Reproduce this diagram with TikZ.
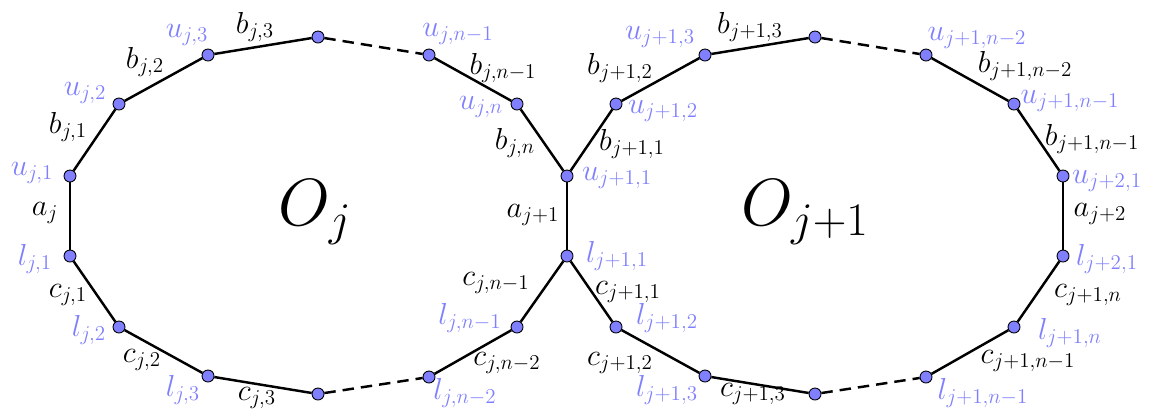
\RequirePackage{fix-cm}
\documentclass[tikz,border=0pt]{standalone}
\begin{document}
\begin{tikzpicture}[x=0.02cm,y=-0.02cm,
  vtx/.style={circle,draw=black,line width=0.5pt,fill=blue!50,minimum size=0.24cm,inner sep=0pt},
  edge/.style={line width=1.4pt},
  gap/.style={line width=1.4pt,dash pattern=on 6.5pt off 4pt},
  vl/.style={text=blue!50,inner sep=0pt,font=\fontsize{17.28}{20}\selectfont},
  el/.style={text=black,inner sep=0pt,font=\fontsize{17.28}{20}\selectfont},
  big/.style={inner sep=0pt,font=\fontsize{38}{45}\selectfont}]
\useasboundingbox (0,0) rectangle (1151,414);
% upper chain
\node[vtx] (u1) at (70,176) {};
\node[vtx] (u2) at (119,104) {};
\node[vtx] (u3) at (208,55) {};
\node[vtx] (ut) at (318,37) {};
\node[vtx] (unm) at (429,55) {};
\node[vtx] (un) at (517,104) {};
\node[vtx] (m1) at (567,176) {};
\node[vtx] (r2) at (616,104) {};
\node[vtx] (r3) at (705,55) {};
\node[vtx] (rt) at (815,37) {};
\node[vtx] (rnm2) at (926,55) {};
\node[vtx] (rnm1) at (1014,104) {};
\node[vtx] (w1) at (1063,176) {};
% lower chain
\node[vtx] (l1) at (70,256) {};
\node[vtx] (l2) at (119,327) {};
\node[vtx] (l3) at (208,376) {};
\node[vtx] (lb) at (318,394) {};
\node[vtx] (lnm2) at (429,377) {};
\node[vtx] (lnm1) at (517,327) {};
\node[vtx] (m2) at (567,256) {};
\node[vtx] (s2) at (616,327) {};
\node[vtx] (s3) at (705,376) {};
\node[vtx] (sb) at (815,394) {};
\node[vtx] (snm1) at (926,377) {};
\node[vtx] (sn) at (1014,327) {};
\node[vtx] (w2) at (1063,256) {};
% edges
\draw[edge] (u1) -- (u2) -- (u3) -- (ut);
\draw[gap] (ut) -- (unm);
\draw[edge] (unm) -- (un) -- (m1);
\draw[edge] (u1) -- (l1);
\draw[edge] (l1) -- (l2) -- (l3) -- (lb);
\draw[gap] (lb) -- (lnm2);
\draw[edge] (lnm2) -- (lnm1) -- (m2);
\draw[edge] (m1) -- (m2);
\draw[edge] (m1) -- (r2) -- (r3) -- (rt);
\draw[gap] (rt) -- (rnm2);
\draw[edge] (rnm2) -- (rnm1) -- (w1);
\draw[edge] (w1) -- (w2);
\draw[edge] (m2) -- (s2) -- (s3) -- (sb);
\draw[gap] (sb) -- (snm1);
\draw[edge] (snm1) -- (sn) -- (w2);
% big labels
\node[big] (oj) at (315,212) {$O_j$};
\node[big] (oj1) at (805,212) {$O_{j+1}$};
% vertex labels
\node[vl] (tu1) at (32,173) {$u_{j,1}$};
\node[vl] (tu2) at (85,93) {$u_{j,2}$};
\node[vl] (tu3) at (187,35) {$u_{j,3}$};
\node[vl] (tunm) at (458,34) {$u_{j,n-1}$};
\node[vl] (tun) at (481,107) {$u_{j,n}$};
\node[vl] (tm1) at (617,178) {$u_{j+1,1}$};
\node[vl] (tr2) at (663,111) {$u_{j+1,2}$};
\node[vl] (tr3) at (660,37) {$u_{j+1,3}$};
\node[vl] (trnm2) at (977,38) {$u_{j+1,n-2}$};
\node[vl] (trnm1) at (1070,101) {$u_{j+1,n-1}$};
\node[vl] (tw1) at (1107,181) {$u_{j+2,1}$};
\node[vl] (tl1) at (35,259) {$l_{j,1}$};
\node[vl] (tl2) at (89,330) {$l_{j,2}$};
\node[vl] (tl3) at (183,390) {$l_{j,3}$};
\node[vl] (tlnm2) at (465,393) {$l_{j,n-2}$};
\node[vl] (tlnm1) at (470,318) {$l_{j,n-1}$};
\node[vl] (tm2) at (617,256) {$l_{j+1,1}$};
\node[vl] (ts2) at (667,318) {$l_{j+1,2}$};
\node[vl] (ts3) at (667,390) {$l_{j+1,3}$};
\node[vl] (tsnm1) at (983,393) {$l_{j+1,n-1}$};
\node[vl] (tsn) at (1070,333) {$l_{j+1,n}$};
\node[vl] (tw2) at (1107,259) {$l_{j+2,1}$};
% edge labels
\node[el] (ea1) at (45,213) {$a_j$};
\node[el] (ea2) at (533,215) {$a_{j+1}$};
\node[el] (ea3) at (1100,214) {$a_{j+2}$};
\node[el] (eb1) at (68,127) {$b_{j,1}$};
\node[el] (eb2) at (145,62) {$b_{j,2}$};
\node[el] (eb3) at (255,27) {$b_{j,3}$};
\node[el] (ebnm) at (503,68) {$b_{j,n-1}$};
\node[el] (ebn) at (515,143) {$b_{j,n}$};
\node[el] (ec1) at (68,295) {$c_{j,1}$};
\node[el] (ec2) at (142,360) {$c_{j,2}$};
\node[el] (ec3) at (257,398) {$c_{j,3}$};
\node[el] (ecnm1) at (496,283) {$c_{j,n-1}$};
\node[el] (ecnm2) at (507,363) {$c_{j,n-2}$};
\node[el] (fb1) at (632,144) {$b_{j+1,1}$};
\node[el] (fb2) at (620,68) {$b_{j+1,2}$};
\node[el] (fb3) at (750,27) {$b_{j+1,3}$};
\node[el] (fbnm2) at (1025,66) {$b_{j+1,n-2}$};
\node[el] (fbnm1) at (1092,139) {$b_{j+1,n-1}$};
\node[el] (fc1) at (628,292) {$c_{j+1,1}$};
\node[el] (fc2) at (620,363) {$c_{j+1,2}$};
\node[el] (fc3) at (753,394) {$c_{j+1,3}$};
\node[el] (fcnm1) at (1028,361) {$c_{j+1,n-1}$};
\node[el] (fcn) at (1088,295) {$c_{j+1,n}$};
\end{tikzpicture}
\end{document}
